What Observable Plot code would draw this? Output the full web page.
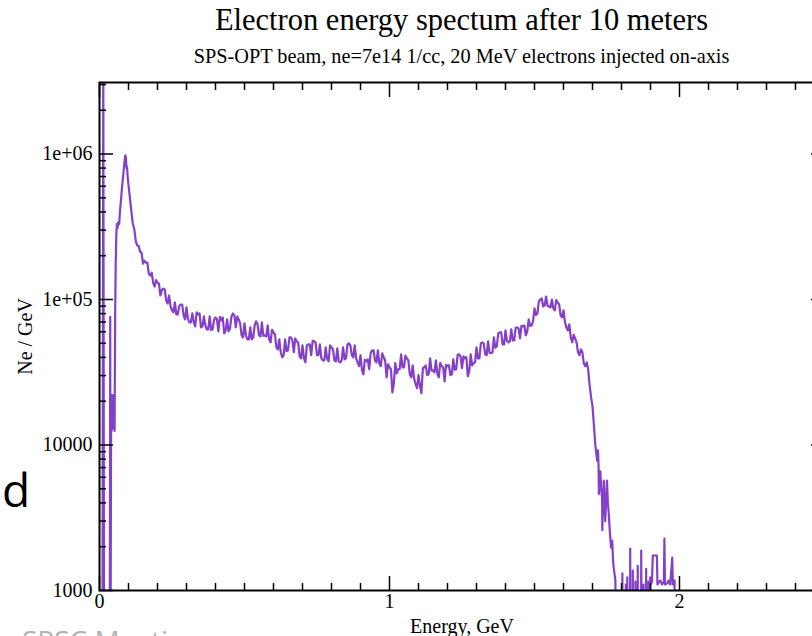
<!DOCTYPE html>
<html><head><meta charset="utf-8">
<script src="https://cdn.jsdelivr.net/npm/d3@7"></script>
<script src="https://cdn.jsdelivr.net/npm/@observablehq/plot@0.6"></script>
<style>
html,body{margin:0;padding:0;background:#fff;overflow:hidden;width:812px;height:636px}
#wrap{position:relative;width:830px;height:636px}
#chart{position:absolute;left:0;top:0}
.t{position:absolute;font-family:"Liberation Serif",serif;color:#000;white-space:nowrap;line-height:1}
.s{position:absolute;font-family:"Open Sans",sans-serif;white-space:nowrap;line-height:1}
</style></head><body>
<div id="wrap">
 <div id="chart"></div>
 <div class="t" style="left:99px;width:725px;text-align:center;top:5px;font-size:30.5px">Electron energy spectum after 10 meters</div>
 <div class="t" style="left:99px;width:725px;text-align:center;top:46px;font-size:20.3px">SPS-OPT beam, ne=7e14 1/cc, 20 MeV electrons injected on-axis</div>
 <div class="s" style="left:2px;top:466px;font-size:46px;color:#000">d</div>
 <div class="s" style="left:22px;top:626px;font-size:28px;color:#b3b3b3">SPSC Meeting</div>
</div>
<script>
// ---- data ----
const peakEnergy = [0.010,0.013,0.016,0.035,0.037,0.038,0.040,0.041,0.042,0.043,0.044,0.046,0.048,0.050,0.052,0.054,0.056,0.058,0.060,0.062,0.065,0.068,0.070,0.074,0.078,0.082,0.086,0.089,0.091,0.093,0.095,0.097,0.100];
const peakNe = [100,5e6,100,100,76000,300,14500,22000,12500,20000,13000,22000,13000,20000,12500,80000,180000,280000,330000,310000,340000,330000,390000,480000,600000,720000,880000,980000,950000,800000,820000,700000,613000];

const bodyEnergy = [
 0.11,0.12,0.13,0.14,0.15,0.16,0.17,0.18,0.19,0.20,
 0.21,0.22,0.23,0.24,0.25,0.26,0.27,0.28,0.29,0.30,
 0.31,0.32,0.33,0.34,0.35,0.36,0.37,0.38,0.39,0.40,
 0.41,0.42,0.43,0.44,0.45,0.46,0.47,0.48,0.49,0.50,
 0.51,0.52,0.53,0.54,0.55,0.56,0.57,0.58,0.59,0.60,
 0.61,0.62,0.63,0.64,0.65,0.66,0.67,0.68,0.69,0.70,
 0.71,0.72,0.73,0.74,0.75,0.76,0.77,0.78,0.79,0.80,
 0.81,0.82,0.83,0.84,0.85,0.86,0.87,0.88,0.89,0.90,
 0.91,0.92,0.93,0.94,0.95,0.96,0.97,0.98,0.99,1.00,
 1.01,1.02,1.03,1.04,1.05,1.06,1.07,1.08,1.09,1.10,
 1.11,1.12,1.13,1.14,1.15,1.16,1.17,1.18,1.19,1.20,
 1.21,1.22,1.23,1.24,1.25,1.26,1.27,1.28,1.29,1.30,
 1.31,1.32,1.33,1.34,1.35,1.36,1.37,1.38,1.39,1.40,
 1.41,1.42,1.43,1.44,1.45,1.46,1.47,1.48,1.49,1.50,
 1.51,1.52,1.53,1.54,1.55,1.56,1.57,1.58,1.59,1.60,
 1.61,1.62,1.63,1.64,1.65,1.66,1.67,1.68,1.69,1.70,
 1.71];
const bodyNe = [
 400000,305000,235000,212800,176200,179000,150500,152900,122700,130600,
 106500,118900,98400,106500,84100,95400,79000,92400,77700,88200,
 69600,80200,65300,79000,64300,76500,62300,76500,62300,75300,
 60400,71800,58500,73000,63300,80200,64300,73000,56700,68500,
 53200,64300,54900,70700,56700,69600,56700,66400,50800,59400,
 46900,53200,40100,53200,44800,54900,43400,51600,40700,48400,
 37000,49200,41400,51600,41400,49200,38200,46900,37600,46900,
 38200,46200,37000,46900,39400,50000,41400,48400,37000,41400,
 30600,37600,33200,44800,38200,44800,34800,40100,29200,34200,
 23000,36500,33200,42000,34200,39400,30600,35300,26200,30200,
 22700,34200,30200,39400,32600,38200,29200,34800,27400,34800,
 30200,38800,33200,42000,33700,39400,29700,42000,36500,46900,
 39400,50800,42000,51600,42700,54900,47700,59400,49200,61300,
 50800,62300,52400,64300,54000,65300,56700,73000,66400,86800,
 80200,100000,89600,104800,89600,100000,84100,95400,77700,84100,
 64300,67500,50800,54000,43400,45500,36500,37000,25800,18500,
 9870];

const bodyMidEnergy = [
 0.105,0.115,0.125,0.135,0.145,0.155,0.165,0.175,0.185,0.195,
 0.205,0.215,0.225,0.235,0.245,0.255,0.265,0.275,0.285,0.295,
 0.305,0.315,0.325,0.335,0.345,0.355,0.365,0.375,0.385,0.395,
 0.405,0.415,0.425,0.435,0.445,0.455,0.465,0.475,0.485,0.495,
 0.505,0.515,0.525,0.535,0.545,0.555,0.565,0.575,0.585,0.595,
 0.605,0.615,0.625,0.635,0.645,0.655,0.665,0.675,0.685,0.695,
 0.705,0.715,0.725,0.735,0.745,0.755,0.765,0.775,0.785,0.795,
 0.805,0.815,0.825,0.835,0.845,0.855,0.865,0.875,0.885,0.895,
 0.905,0.915,0.925,0.935,0.945,0.955,0.965,0.975,0.985,0.995,
 1.005,1.015,1.025,1.035,1.045,1.055,1.065,1.075,1.085,1.095,
 1.105,1.115,1.125,1.135,1.145,1.155,1.165,1.175,1.185,1.195,
 1.205,1.215,1.225,1.235,1.245,1.255,1.265,1.275,1.285,1.295,
 1.305,1.315,1.325,1.335,1.345,1.355,1.365,1.375,1.385,1.395,
 1.405,1.415,1.425,1.435,1.445,1.455,1.465,1.475,1.485,1.495,
 1.505,1.515,1.525,1.535,1.545,1.555,1.565,1.575,1.585,1.595,
 1.605,1.615,1.625,1.635,1.645,1.655,1.665,1.675,1.685,1.695,
 1.705];
const bodyMidNe = [
 498000,330600,253000,233900,209500,184700,179000,145900,130600,136000,
 128600,116000,117000,93900,89600,81500,79000,90300,92400,73000,
 73600,69600,70100,81500,80200,65300,66400,62300,61800,72400,
 73000,75900,75300,61300,60400,76500,77700,76500,68500,54900,
 56700,53200,53200,66400,67500,55800,56300,55800,53200,61800,
 57600,45500,43400,41400,44100,54900,52400,54000,50800,39400,
 39400,48400,49200,52000,50800,41400,39400,38200,39100,48400,
 45500,37600,37600,38200,38800,49200,48400,40100,39400,34800,
 32900,38500,38800,42700,44800,37000,36200,42700,38200,35900,
 33200,26600,31100,33200,34200,41100,38200,29200,28500,24600,
 25600,33700,35300,30600,32400,31600,30900,36700,34200,35600,
 35300,30600,32900,41700,40700,40700,40100,32100,35300,37000,
 39400,50000,50000,41400,43000,43400,46600,58500,59400,49200,
 52000,51600,52400,63800,63300,65900,66400,60400,65900,70700,
 78300,96900,101600,91000,90300,88200,86800,99200,92400,75300,
 70100,61300,54900,57100,50800,41400,43400,34800,33200,21300,
 13500];

const tailEnergy = [1.716,1.719,1.721,1.722,1.725,1.727,1.730,1.733,1.734,1.736,1.739,1.742,1.744,1.747,1.750,1.753,1.756,1.760,1.764,1.768,1.771,1.773,1.776,1.779,1.782,
 1.800,1.803,1.806,1.812,1.815,1.818,1.820,1.822,1.829,1.830,1.832,1.838,1.839,1.841,1.847,1.848,1.850,1.855,1.856,1.858,1.867,1.868,1.870,1.875,1.876,1.878,1.884,1.885,1.887,1.892,1.893,1.895,1.898,1.899,1.901,1.905,1.908,1.922,1.924,1.930,1.934,1.940,1.946,1.948,1.950,1.958,1.962,1.968,1.975,1.977,1.983,1.985];
const tailNe = [7800,9200,7000,4600,6000,6600,5000,4300,2600,4000,5700,3600,3000,4200,5700,4000,3370,2500,1970,2200,1600,1440,1300,1170,100,
 100,1310,100,100,1100,100,1230,100,100,1940,100,100,1370,100,100,1150,100,100,1480,100,100,1880,100,100,1100,100,100,1410,100,100,1150,100,100,1230,1100,1150,1740,1740,1100,1150,1170,1100,1150,2270,1100,1120,1170,1100,1680,1100,1170,100];

const xMajorTicks = [0, 1, 2];
const xTickLabels = ["0", "1", "2"];
const xMinorTicks = [0.1,0.2,0.3,0.4,0.5,0.6,0.7,0.8,0.9,1.1,1.2,1.3,1.4,1.5,1.6,1.7,1.8,1.9,2.1,2.2,2.3,2.4];
const yMajorTicks = [1000, 10000, 100000, 1000000];
const yTickLabels = ["1000", "10000", "1e+05", "1e+06"];
const yMinorTicks = [2000,3000,4000,5000,6000,7000,8000,9000,20000,30000,40000,50000,60000,70000,80000,90000,200000,300000,400000,500000,600000,700000,800000,900000,2000000,3000000];

const spectrum = [];
[[peakEnergy, peakNe], [bodyEnergy, bodyNe], [bodyMidEnergy, bodyMidNe], [tailEnergy, tailNe]].forEach(([E, N]) =>
  E.forEach((e, i) => spectrum.push({energy: e, ne: N[i]})));
spectrum.sort((a, b) => a.energy - b.energy);

const lineColor = "#8540c9";
const tickStyle = {fill: "none", label: null, strokeWidth: 1.5, stroke: "#000"};

const chart = Plot.plot({
  width: 830, height: 636,
  marginTop: 82, marginBottom: 46, marginLeft: 99, marginRight: 6,
  style: {background: "#fff", fontFamily: "Liberation Serif, serif", fontSize: "20px", color: "#000"},
  x: {domain: [0, 2.5]},
  y: {type: "log", domain: [1000, 3.1e6]},
  marks: [
    Plot.line(spectrum, {x: "energy", y: "ne", stroke: lineColor, strokeWidth: 2.2, clip: true}),
    Plot.axisX(xMinorTicks, {anchor: "bottom", tickSize: -7, ...tickStyle}),
    Plot.axisX(xMajorTicks, {anchor: "bottom", tickSize: -14, ...tickStyle}),
    Plot.axisX(xMinorTicks, {anchor: "top", tickSize: -7, ...tickStyle}),
    Plot.axisX(xMajorTicks, {anchor: "top", tickSize: -14, ...tickStyle}),
    Plot.axisY(yMinorTicks, {anchor: "left", tickSize: -7, ...tickStyle}),
    Plot.axisY(yMajorTicks, {anchor: "left", tickSize: -14, ...tickStyle}),
    Plot.axisY(yMinorTicks, {anchor: "right", tickSize: -7, ...tickStyle}),
    Plot.axisY(yMajorTicks, {anchor: "right", tickSize: -14, ...tickStyle}),
    Plot.axisX(xMajorTicks, {anchor: "bottom", tickSize: 0, tickPadding: 3, fill: "#000",
      tickFormat: d => xTickLabels[xMajorTicks.indexOf(d)],
      label: "Energy, GeV", labelAnchor: "center", labelArrow: "none", labelOffset: 42}),
    Plot.axisY(yMajorTicks, {anchor: "left", tickSize: 0, tickPadding: 7, fill: "#000",
      tickFormat: d => yTickLabels[yMajorTicks.indexOf(d)],
      label: "Ne / GeV", labelAnchor: "center", labelArrow: "none", labelOffset: 82}),
    Plot.frame({stroke: "#000", strokeWidth: 2})
  ]
});
document.getElementById("chart").appendChild(chart);
</script>
</body></html>
